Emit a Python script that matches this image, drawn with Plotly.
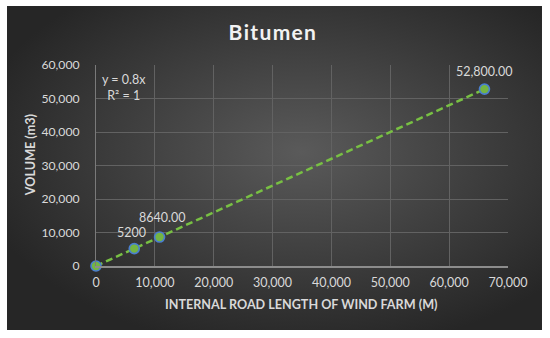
import base64
import plotly.graph_objects as go

# --- data -------------------------------------------------
road_length = [0, 6500, 10800, 66000]          # internal road length (m)
volume = [0, 5200, 8640, 52800]                # bitumen volume (m3)
point_labels = ["", "5200", "8640.00", "52,800.00"]

x_ticks = [0, 10000, 20000, 30000, 40000, 50000, 60000, 70000]
y_ticks = [0, 10000, 20000, 30000, 40000, 50000, 60000]

FONT = "Lato, 'Open Sans', sans-serif"
TXT = "#d9d9d9"

# dark radial gradient panel behind everything (Excel-style chart area)
svg = """<svg xmlns='http://www.w3.org/2000/svg' width='535' height='324' preserveAspectRatio='none'>
<defs><radialGradient id='g' cx='0.55' cy='0.45' r='0.62'>
<stop offset='0' stop-color='#5a5a5a'/><stop offset='1' stop-color='#262626'/>
</radialGradient></defs>
<rect width='535' height='324' fill='url(#g)'/></svg>"""
bg_src = "data:image/svg+xml;base64," + base64.b64encode(svg.encode()).decode()

fig = go.Figure()
fig.add_trace(go.Scatter(
    x=road_length, y=volume,
    mode="lines+markers",
    line=dict(color="#78c043", width=2.5, dash="7px,4px"),
    marker=dict(size=10, color="#74b543", line=dict(color="#4a7fd0", width=1.6)),
    cliponaxis=False,
    showlegend=False,
))

# data labels above the points (small nudges keep the two close ones apart)
nudges = {"5200": (-3, 16), "8640.00": (2, 20)}
annotations = []
for xv, yv, lab in zip(road_length, volume, point_labels):
    if not lab:
        continue
    dx, dy = nudges.get(lab, (0, 18))
    annotations.append(dict(x=xv, y=yv, text=lab, showarrow=False, xshift=dx, yshift=dy,
                            xref="x", yref="y",
                            font=dict(family=FONT, size=12.5, color=TXT)))
annotations += [
    dict(text="<b>INTERNAL ROAD LENGTH OF WIND FARM (M)</b>", xref="paper", yref="paper",
         x=0.498, y=-0.19, yanchor="middle", showarrow=False,
         font=dict(family=FONT, size=12.6, color=TXT)),
    dict(text="<b>VOLUME (m3)</b>", xref="paper", yref="paper",
         x=-0.16, y=0.552, xanchor="center", yanchor="middle", textangle=-90,
         showarrow=False, font=dict(family=FONT, size=12.6, color=TXT)),
    dict(text="y = 0.8x<br>R² = 1", xref="paper", yref="paper",
         x=0.068, y=0.886, xanchor="center", yanchor="middle", align="center",
         showarrow=False, font=dict(family=FONT, size=12.5, color=TXT)),
]

fig.update_layout(
    width=550, height=338,
    margin=dict(l=96, r=42, t=65, b=72),
    paper_bgcolor="white",
    plot_bgcolor="rgba(0,0,0,0)",
    font=dict(family=FONT, size=13, color=TXT),
    title=dict(text="<b>B\u200ai\u200at\u200au\u200am\u200ae\u200an</b>", x=0.495, xanchor="center",
               y=0.902, yanchor="middle",
               font=dict(family=FONT, size=21, color="#f2f2f2")),
    xaxis=dict(range=[0, 70000], tickvals=x_ticks, tickformat=",d",
               showgrid=True, gridcolor="#626262", gridwidth=1,
               showline=True, linecolor="#8c8c8c", linewidth=1.5,
               zeroline=False, ticks="", ticklabelstandoff=4,
               tickfont=dict(family=FONT, size=12.5, color=TXT)),
    yaxis=dict(range=[0, 60000], tickvals=y_ticks, tickformat=",d",
               showgrid=True, gridcolor="#626262", gridwidth=1,
               showline=True, linecolor="#7a7a7a", linewidth=1,
               zeroline=False, ticks="", ticklabelstandoff=13,
               tickfont=dict(family=FONT, size=12.2, color=TXT)),
    images=[dict(source=bg_src, xref="paper", yref="paper",
                 x=-0.216, y=1.2935, sizex=1.2985, sizey=1.612,
                 xanchor="left", yanchor="top", sizing="stretch", layer="below")],
    annotations=annotations,
)

fig.write_html("out.html", config={"displayModeBar": False},
               post_script="document.body.style.margin='0';")
